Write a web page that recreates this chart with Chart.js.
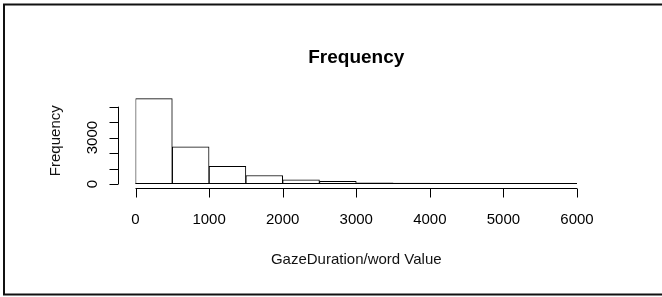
<!DOCTYPE html>
<html>
<head>
<meta charset="utf-8">
<script src="https://cdn.jsdelivr.net/npm/chart.js@4"></script>
<style>
  html, body { margin: 0; padding: 0; background: #fff; }
  canvas { display: block; }
</style>
</head>
<body>
<canvas id="histChart" width="662" height="297"></canvas>
<script>
// Clases del histograma (centro de cada clase de 500)
const binCenters = [250, 750, 1250, 1750, 2250, 2750, 3250, 3750, 4250, 4750, 5250, 5750];
const frequencies = [5520, 2410, 1140, 550, 265, 180, 70, 55, 4, 2, 1, 1];

// Marcas de los ejes
const xTicks = [0, 1000, 2000, 3000, 4000, 5000, 6000];
const xTickLabels = ['0', '1000', '2000', '3000', '4000', '5000', '6000'];
const yTicks = [0, 1000, 2000, 3000, 4000, 5000];
const yTickLabels = ['0', '', '', '3000', '', ''];

const chartTitle = 'Frequency';
const xTitle = 'GazeDuration/word Value';
const yTitle = 'Frequency';

// Ejes estilo R dibujados a mano con las escalas de Chart.js
const ejesR = {
    id: 'ejesR',
    beforeDraw(chart) {
        const ctx = chart.ctx;
        ctx.save();
        ctx.fillStyle = '#fff';
        ctx.fillRect(0, 0, chart.width, chart.height);
        // marco (el borde derecho queda fuera de la imagen)
        ctx.strokeStyle = '#111';
        ctx.lineWidth = 2;
        ctx.strokeRect(4, 4.5, 700, 290);
        ctx.restore();
    },
    afterDraw(chart) {
        const ctx = chart.ctx;
        const x = chart.scales.x;
        const y = chart.scales.y;
        const area = chart.chartArea;
        const axisX = Math.round(area.left - 18) + 0.5;
        const axisY = Math.round(area.bottom + 4) + 0.5;

        ctx.save();
        ctx.strokeStyle = '#000';
        ctx.fillStyle = '#000';
        ctx.lineWidth = 1;

        // eje x
        ctx.beginPath();
        ctx.moveTo(x.getPixelForValue(xTicks[0]), axisY);
        ctx.lineTo(x.getPixelForValue(xTicks[xTicks.length - 1]), axisY);
        xTicks.forEach(t => {
            const px = Math.round(x.getPixelForValue(t)) + 0.5;
            ctx.moveTo(px, axisY);
            ctx.lineTo(px, axisY + 9);
        });
        ctx.stroke();

        // línea base de las clases vacías
        ctx.beginPath();
        const baseY = Math.round(y.getPixelForValue(0)) - 0.5;
        ctx.moveTo(x.getPixelForValue(xTicks[0]), baseY);
        ctx.lineTo(x.getPixelForValue(xTicks[xTicks.length - 1]), baseY);
        ctx.stroke();

        ctx.font = '15px "Liberation Sans", Arial, sans-serif';
        ctx.textAlign = 'center';
        ctx.textBaseline = 'alphabetic';
        xTicks.forEach((t, i) => {
            ctx.fillText(xTickLabels[i], x.getPixelForValue(t), axisY + 35);
        });

        // eje y
        ctx.beginPath();
        ctx.moveTo(axisX, y.getPixelForValue(yTicks[0]));
        ctx.lineTo(axisX, y.getPixelForValue(yTicks[yTicks.length - 1]));
        yTicks.forEach(t => {
            const py = Math.round(y.getPixelForValue(t)) + 0.5;
            ctx.moveTo(axisX, py);
            ctx.lineTo(axisX - 9, py);
        });
        ctx.stroke();

        yTicks.forEach((t, i) => {
            if (!yTickLabels[i]) return;
            ctx.save();
            ctx.translate(axisX - 22, y.getPixelForValue(t));
            ctx.rotate(-Math.PI / 2);
            ctx.fillText(yTickLabels[i], 0, 0);
            ctx.restore();
        });

        // títulos
        const cx = (x.getPixelForValue(xTicks[0]) + x.getPixelForValue(xTicks[xTicks.length - 1])) / 2;
        ctx.fillStyle = '#111';
        ctx.fillText(xTitle, cx, axisY + 75);

        ctx.save();
        ctx.translate(area.left - 76, (area.top + area.bottom) / 2);
        ctx.rotate(-Math.PI / 2);
        ctx.fillText(yTitle, 0, 0);
        ctx.restore();

        ctx.fillStyle = '#000';
        ctx.font = 'bold 19px "Liberation Sans", Arial, sans-serif';
        ctx.fillText(chartTitle, cx, 63);
        ctx.restore();
    }
};

const ctx = document.getElementById('histChart').getContext('2d');
const histChart = new Chart(ctx, {
    type: 'bar',
    data: {
        datasets: [{
            label: 'Frequency',
            data: binCenters.map((c, i) => ({ x: c, y: frequencies[i] })),
            backgroundColor: '#fff',
            borderColor: '#000',
            borderWidth: 1,
            borderSkipped: false,
            barPercentage: 1,
            categoryPercentage: 1
        }]
    },
    options: {
        responsive: false,
        animation: false,
        devicePixelRatio: 1,
        layout: {
            padding: { left: 135.5, right: 85, top: 97.4, bottom: 113 }
        },
        plugins: {
            legend: { display: false },
            title: { display: false },
            tooltip: { enabled: false }
        },
        scales: {
            x: { type: 'linear', min: 0, max: 6000, offset: false, display: false },
            y: { type: 'linear', min: 0, max: 5600, display: false }
        }
    },
    plugins: [ejesR]
});
</script>
</body>
</html>
